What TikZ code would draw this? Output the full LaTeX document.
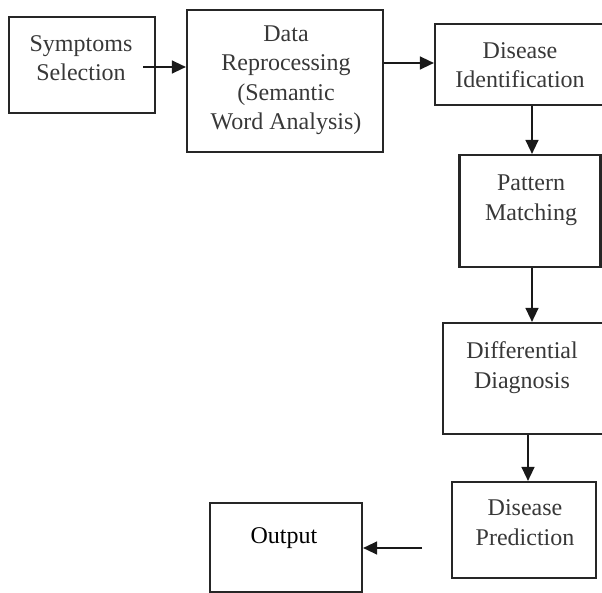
\documentclass[tikz,border=0pt]{standalone}
\usepackage{fontspec}
\setmainfont{Liberation Serif}
\usetikzlibrary{arrows.meta}
\begin{document}
\begin{tikzpicture}[x=1pt,y=-1pt,
  boxstyle/.style={draw=black!85,line width=2.2pt,inner sep=0pt},
  txtstyle/.style={align=center,text=black!78,font=\fontsize{24}{29.5}\selectfont,inner sep=0pt},
  arrowstyle/.style={draw=black!90,line width=1.4pt,-{Triangle[length=14pt,width=13pt]}}]
\useasboundingbox (0,0) rectangle (602,593);
\clip (0,0) rectangle (602,593);
% boxes
\node[boxstyle,minimum width=146pt,minimum height=96pt] (sym) at (82,65) {};
\node[boxstyle,minimum width=196pt,minimum height=142pt] (dat) at (285,81) {};
\node[boxstyle,minimum width=172pt,minimum height=81pt] (did) at (521,64.5) {};
\node[boxstyle,minimum width=141pt,minimum height=112pt] (pat) at (530,211) {};
\node[boxstyle,minimum width=162pt,minimum height=111pt] (dif) at (524,378.5) {};
\node[boxstyle,minimum width=144pt,minimum height=96pt] (pre) at (524,530) {};
\node[boxstyle,minimum width=152pt,minimum height=89pt] (out) at (286,547.5) {};
% texts
\node[txtstyle] (symT) at (81,58) {Symptoms\\Selection};
\node[txtstyle] (datT) at (286,80) {Data\\Reprocessing\\(Semantic\\Word Analysis)};
\node[txtstyle] (didT) at (520,65) {Disease\\Identification};
\node[txtstyle] (patT) at (531,200) {Pattern\\Matching};
\node[txtstyle] (difT) at (522,367.5) {Differential\\Diagnosis};
\node[txtstyle] (preT) at (525,522.5) {Disease\\Prediction};
\node[txtstyle,text=black] (outT) at (284,538) {Output};
% connectors
\coordinate (symA) at (143,67);
\coordinate (outA) at (422,548);
\draw[arrowstyle] (symA) -- (symA -| dat.west);
\draw[arrowstyle] (dat.east |- 0,63) -- (did.west |- 0,63);
\draw[arrowstyle] (did.south -| 532,0) -- (pat.north -| 532,0);
\draw[arrowstyle] (pat.south -| 532,0) -- (dif.north -| 532,0);
\draw[arrowstyle] (dif.south -| 528,0) -- (pre.north -| 528,0);
\draw[arrowstyle] (outA) -- (outA -| out.east);
\end{tikzpicture}
\end{document}
